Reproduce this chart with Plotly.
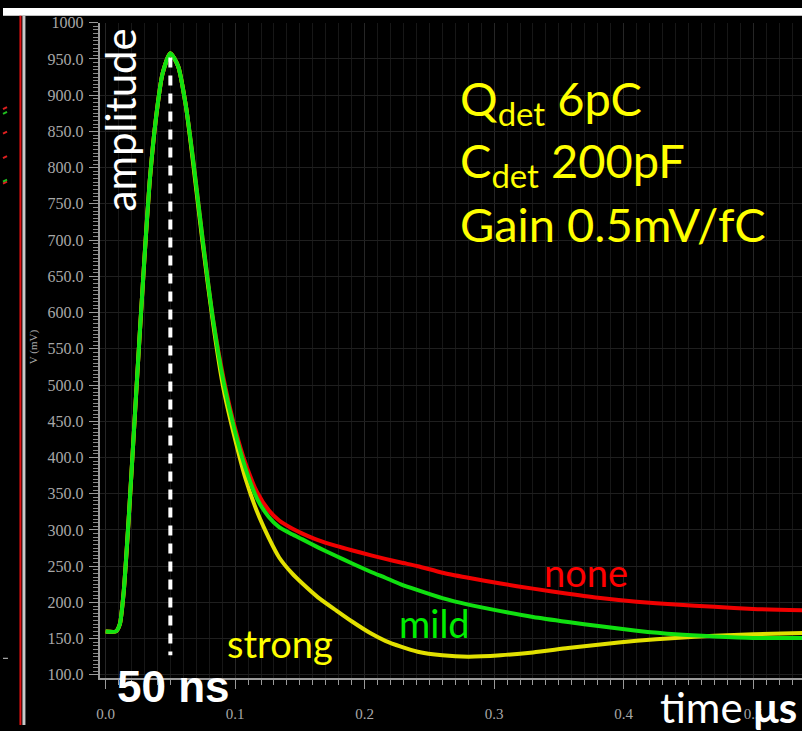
import plotly.graph_objects as go

# Shaper output pulse for three levels of pole-zero / undershoot compensation
time_us = [0.000, 0.008, 0.011, 0.014, 0.018, 0.022, 0.026, 0.030, 0.034, 0.039,
           0.044, 0.050, 0.056, 0.062, 0.068, 0.075, 0.083, 0.091, 0.100, 0.108,
           0.117, 0.126, 0.134, 0.144, 0.152, 0.164, 0.178, 0.190, 0.205, 0.216,
           0.228, 0.241, 0.260, 0.280, 0.305, 0.330, 0.357, 0.382, 0.410, 0.440,
           0.470, 0.500, 0.540]

v_none = [160, 160, 170, 215, 320, 440, 560, 675, 780, 870,
          930, 958, 940, 885, 805, 700, 590, 510, 440, 392,
          352, 327, 313, 302, 295, 286, 278, 272, 265, 260,
          255, 250, 241, 234, 226, 219, 212, 206, 201, 197,
          194, 191, 189]

v_mild = [160, 160, 170, 215, 320, 440, 560, 675, 780, 870,
          930, 958, 940, 885, 805, 700, 590, 505, 435, 385,
          343, 318, 304, 294, 287, 276, 264, 254, 242, 234,
          225, 217, 206, 197, 188, 180, 173, 167, 161, 156,
          153, 151, 151]

v_strong = [160, 160, 170, 215, 320, 440, 560, 675, 780, 870,
            930, 958, 940, 885, 800, 695, 585, 495, 425, 371,
            325, 289, 262, 240, 226, 207, 189, 174, 157, 147,
            139, 132, 127, 125, 127, 131, 137, 142, 147, 151,
            154, 156, 158]

peak_time_us = 0.05
peak_line_v = [952, 127]

y_ticks = list(range(100, 1001, 50))
y_ticktext = [f"{v:.1f}" if v < 1000 else "1000" for v in y_ticks]
x_ticks = [0.0, 0.1, 0.2, 0.3, 0.4, 0.5]
x_ticktext = ["0.0", "0.1", "0.2", "0.3", "0.4", "0.5"]

W, H = 802, 731


def px(x):
    return x / W


def py(y):
    return 1 - y / H


fig = go.Figure()

fig.add_trace(go.Scatter(x=time_us, y=v_none, mode="lines",
                         line=dict(color="#f00000", width=4, shape="spline", smoothing=0.6),
                         hoverinfo="skip", name="none"))
fig.add_trace(go.Scatter(x=time_us, y=v_strong, mode="lines",
                         line=dict(color="#e2e000", width=4, shape="spline", smoothing=0.6),
                         hoverinfo="skip", name="strong"))
fig.add_trace(go.Scatter(x=time_us, y=v_mild, mode="lines",
                         line=dict(color="#10e010", width=4, shape="spline", smoothing=0.6),
                         hoverinfo="skip", name="mild"))
fig.add_trace(go.Scatter(x=[peak_time_us, peak_time_us], y=peak_line_v, mode="lines",
                         line=dict(color="white", width=4, dash="10px,8px"),
                         hoverinfo="skip", name="peak"))

serif = "Liberation Serif"
fig.update_xaxes(
    domain=[px(97), 1], range=[-0.0046, 0.5377],
    tickvals=x_ticks, ticktext=x_ticktext,
    tickfont=dict(family=serif, size=15, color="#a8a8a8"),
    ticks="outside", ticklen=9, tickwidth=1, tickcolor="#9a9a9a",
    ticklabelstandoff=12,
    showline=True, linecolor="#9a9a9a", linewidth=2,
    showgrid=True, gridcolor="#262626", gridwidth=1,
    minor=dict(dtick=0.01, ticks="outside", ticklen=5, tickcolor="#9a9a9a",
               showgrid=True, gridcolor="#171717"),
    zeroline=False,
)
fig.update_yaxes(
    domain=[py(683), py(15)], range=[95.8, 1000],
    tickvals=y_ticks, ticktext=y_ticktext,
    tickfont=dict(family=serif, size=16, color="#a8a8a8"),
    ticks="outside", ticklen=9, tickwidth=1, tickcolor="#9a9a9a",
    ticklabelstandoff=2,
    showline=True, linecolor="#9a9a9a", linewidth=2,
    showgrid=True, gridcolor="#1f1f1f", gridwidth=1,
    minor=dict(dtick=5, ticks="outside", ticklen=5, tickcolor="#8a8a8a", showgrid=False),
    zeroline=False,
)

shapes = [
    # white strip across the top
    dict(type="rect", xref="paper", yref="paper", x0=0, x1=1, y0=py(8), y1=1,
         fillcolor="white", line=dict(width=0), layer="above"),
    # neighbouring panel border on the left
    dict(type="line", xref="paper", yref="paper", x0=px(17.5), x1=px(17.5), y0=0, y1=py(8),
         line=dict(color="#e01010", width=2)),
    dict(type="line", xref="paper", yref="paper", x0=px(21), x1=px(21), y0=0, y1=py(8),
         line=dict(color="#c8c8c8", width=3)),
]
for yy, col in [(101, "#e02020"), (106, "#20c020"), (126, "#e02020"), (151, "#e02020"),
                (177, "#e02020"), (175, "#20c020")]:
    shapes.append(dict(type="line", xref="paper", yref="paper", x0=0, x1=px(4),
                       y0=py(yy + 2), y1=py(yy), line=dict(color=col, width=2)))
shapes.append(dict(type="line", xref="paper", yref="paper", x0=0, x1=px(5),
                   y0=py(663), y1=py(663), line=dict(color="#cccccc", width=1)))

sans = "Lato"
ann = [
    dict(text="amplitude", x=px(117), y=py(114), textangle=-90,
         font=dict(family=sans, size=42, color="white")),
    dict(text="Q<sub>det</sub> 6pC", x=px(457), y=py(95), xanchor="left",
         font=dict(family=sans, size=47, color="#ffff00")),
    dict(text="C<sub>det</sub> 200pF", x=px(457), y=py(159), xanchor="left",
         font=dict(family=sans, size=47, color="#ffff00")),
    dict(text="Gain 0.5mV/fC", x=px(457), y=py(220), xanchor="left",
         font=dict(family=sans, size=47, color="#ffff00")),
    dict(text="none", x=px(585), y=py(575), font=dict(family=sans, size=38, color="#ff0000")),
    dict(text="mild", x=px(433), y=py(627), font=dict(family=sans, size=38, color="#00ee00")),
    dict(text="strong", x=px(278), y=py(647), font=dict(family=sans, size=38, color="#ffff00")),
    dict(text="<b>50 ns</b>", x=px(171), y=py(692),
         font=dict(family="Liberation Sans", size=44, color="white")),
    dict(text="time <b>\u03bcs</b>", x=px(657), y=py(713), xanchor="left",
         font=dict(family=sans, size=42, color="white")),
    dict(text="V (mV)", x=px(31), y=py(345), textangle=-90,
         font=dict(family=serif, size=11, color="#a8a8a8")),
]
for a in ann:
    a.setdefault("xanchor", "center")
    a.setdefault("yanchor", "middle")
    a.update(xref="paper", yref="paper", showarrow=False)

fig.update_layout(
    width=W, height=H, margin=dict(l=0, r=0, t=0, b=0),
    paper_bgcolor="black", plot_bgcolor="black",
    showlegend=False, shapes=shapes, annotations=ann,
)

fig.write_html("out.html")
